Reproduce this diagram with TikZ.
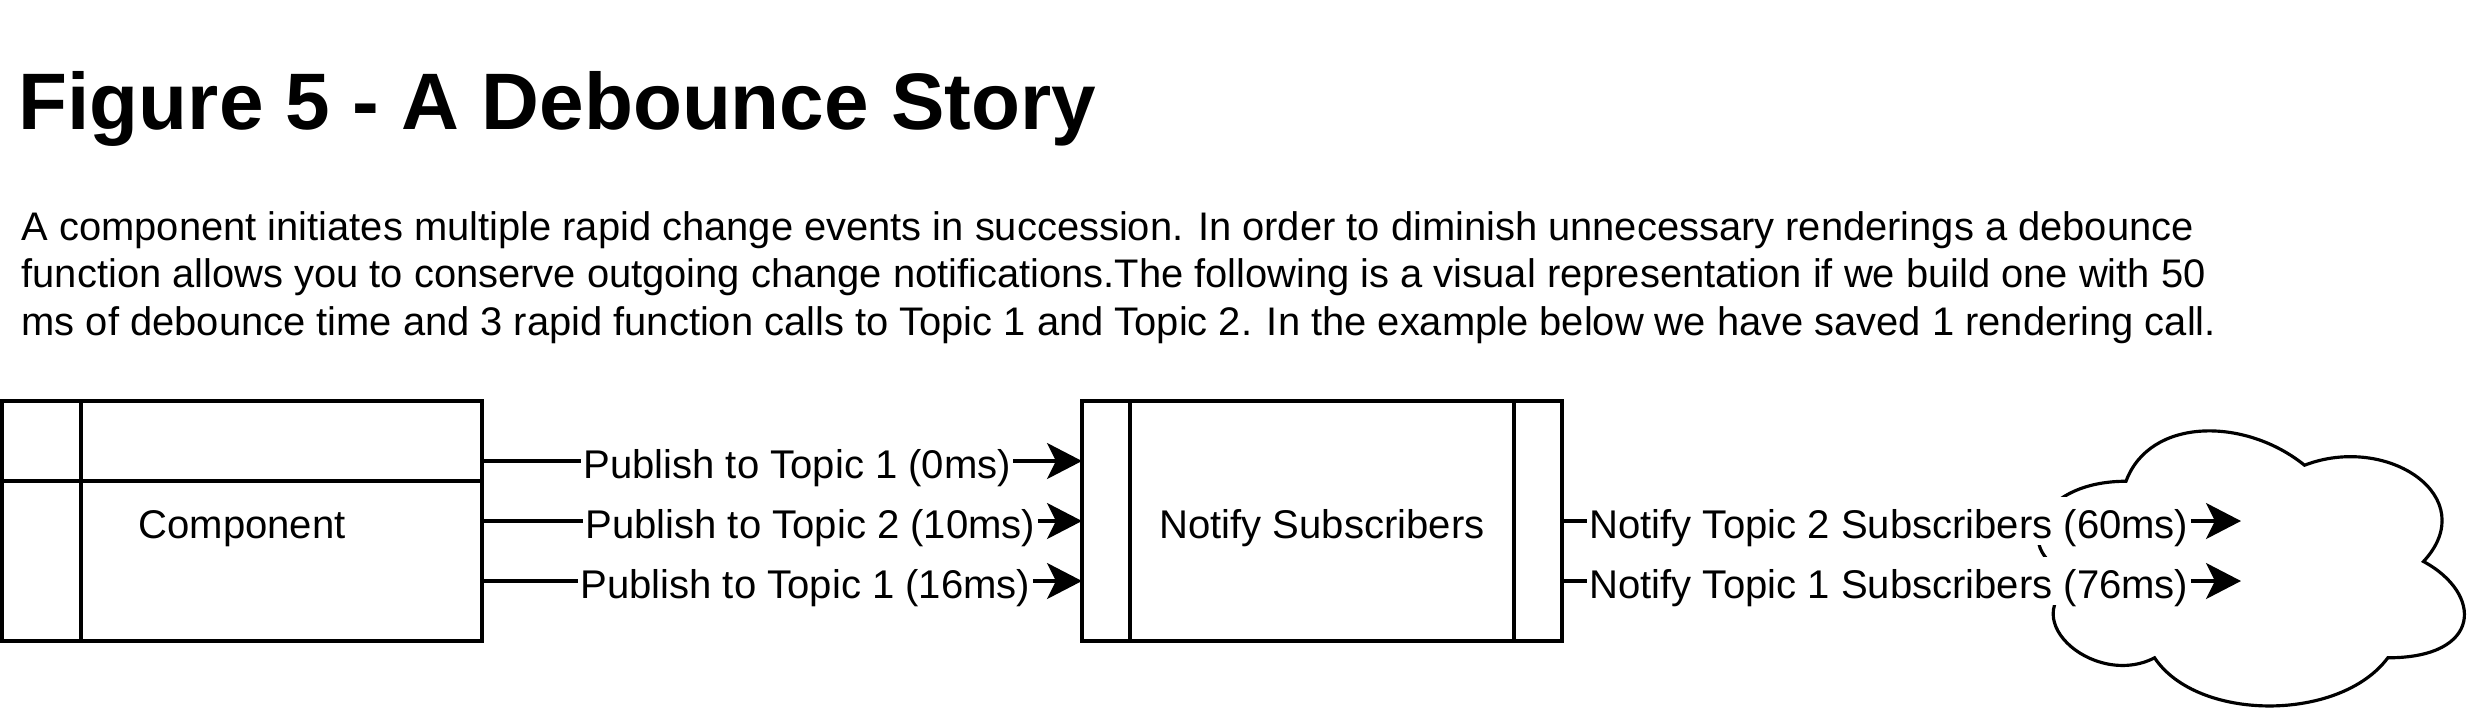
\documentclass[tikz,border=0pt]{standalone}
\usepackage{fontspec}
\setmainfont{Liberation Sans}
\usepackage{tikz}
\usetikzlibrary{positioning,arrows.meta}

\begin{document}
\begin{tikzpicture}[
  block/.style={draw,line width=1.1pt,minimum width=4.8cm,minimum height=2.4cm,inner sep=0pt,outer sep=0pt,font=\fontsize{11.4pt}{13.5pt}\selectfont,text height=0.415cm,text depth=0.065cm},
  lbl/.style={fill=white,inner sep=0pt,inner xsep=0.5pt,font=\fontsize{11.4pt}{13.5pt}\selectfont,text height=0.415cm,text depth=0.065cm},
  title/.style={inner sep=0pt,font=\fontsize{22.8pt}{27pt}\selectfont\bfseries},
  para/.style={inner sep=0pt,align=left,font=\fontsize{11.35pt}{13.5pt}\selectfont},
  link/.style={line width=1pt},
  arr/.style={-{Stealth[length=0.35cm,width=0.36cm,inset=0.09cm]},line width=1pt},
  cloudline/.style={line width=0.9pt,fill=white}
]
  \useasboundingbox (0,0) rectangle (24.84,-7.24);

  % heading and text
  \node[title,anchor=base west] (title) at (0.18,-1.29) {Figure 5 - A Debounce Story};
  \node[para,anchor=base west] (intro) at (0.21,-3.35) {A component initiates multiple rapid change events in succession. In order to diminish unnecessary renderings a debounce\\
    function allows you to conserve outgoing change notifications.The following is a visual representation if we build one with 50\\
    ms of debounce time and 3 rapid function calls to Topic 1 and Topic 2. In the example below we have saved 1 rendering call.};

  % subscribers cloud
  \begin{scope}[shift={(20.07,-4.01)},x=4.76cm,y=-3.21cm]
    \draw[cloudline] (0.25,0.25) .. controls (0.05,0.25) and (0,0.5) .. (0.16,0.55)
      .. controls (0,0.66) and (0.18,0.9) .. (0.31,0.8)
      .. controls (0.4,1) and (0.7,1) .. (0.8,0.8)
      .. controls (1,0.8) and (1,0.6) .. (0.875,0.5)
      .. controls (1,0.3) and (0.8,0.1) .. (0.625,0.2)
      .. controls (0.5,0.05) and (0.3,0.05) .. (0.25,0.25) -- cycle;
  \end{scope}

  % boxes
  \node[block] (comp) at (2.42,-5.21) {Component};
  \node[block,right=6.0cm of comp] (notify) {Notify Subscribers};
  \draw[line width=1.1pt] ([xshift=0.79cm]comp.north west) -- ([xshift=0.79cm]comp.south west);
  \draw[line width=1.1pt] ([yshift=-0.8cm]comp.north west) -- ([yshift=-0.8cm]comp.north east);
  \draw[line width=1.1pt] ([xshift=0.48cm]notify.north west) -- ([xshift=0.48cm]notify.south west);
  \draw[line width=1.1pt] ([xshift=-0.48cm]notify.north east) -- ([xshift=-0.48cm]notify.south east);

  % publish calls
  \node[lbl,anchor=west] (p1) at (5.81,-4.61) {Publish to Topic 1 (0ms)};
  \node[lbl,anchor=west] (p2) at (5.83,-5.21) {Publish to Topic 2 (10ms)};
  \node[lbl,anchor=west] (p3) at (5.78,-5.81) {Publish to Topic 1 (16ms)};
  \draw[link] (comp.east |- p1) -- (p1); \draw[arr] (p1) -- (notify.west |- p1);
  \draw[link] (comp.east |- p2) -- (p2); \draw[arr] (p2) -- (notify.west |- p2);
  \draw[link] (comp.east |- p3) -- (p3); \draw[arr] (p3) -- (notify.west |- p3);

  % notifications
  \coordinate (t2end) at (22.41,-5.21);
  \coordinate (t1end) at (22.41,-5.81);
  \node[lbl,anchor=west] (n2) at (15.87,-5.21) {Notify Topic 2 Subscribers (60ms)};
  \node[lbl,anchor=west] (n1) at (15.87,-5.81) {Notify Topic 1 Subscribers (76ms)};
  \draw[link] (notify.east |- n2) -- (n2); \draw[arr] (n2) -- (t2end);
  \draw[link] (notify.east |- n1) -- (n1); \draw[arr] (n1) -- (t1end);
\end{tikzpicture}
\end{document}
